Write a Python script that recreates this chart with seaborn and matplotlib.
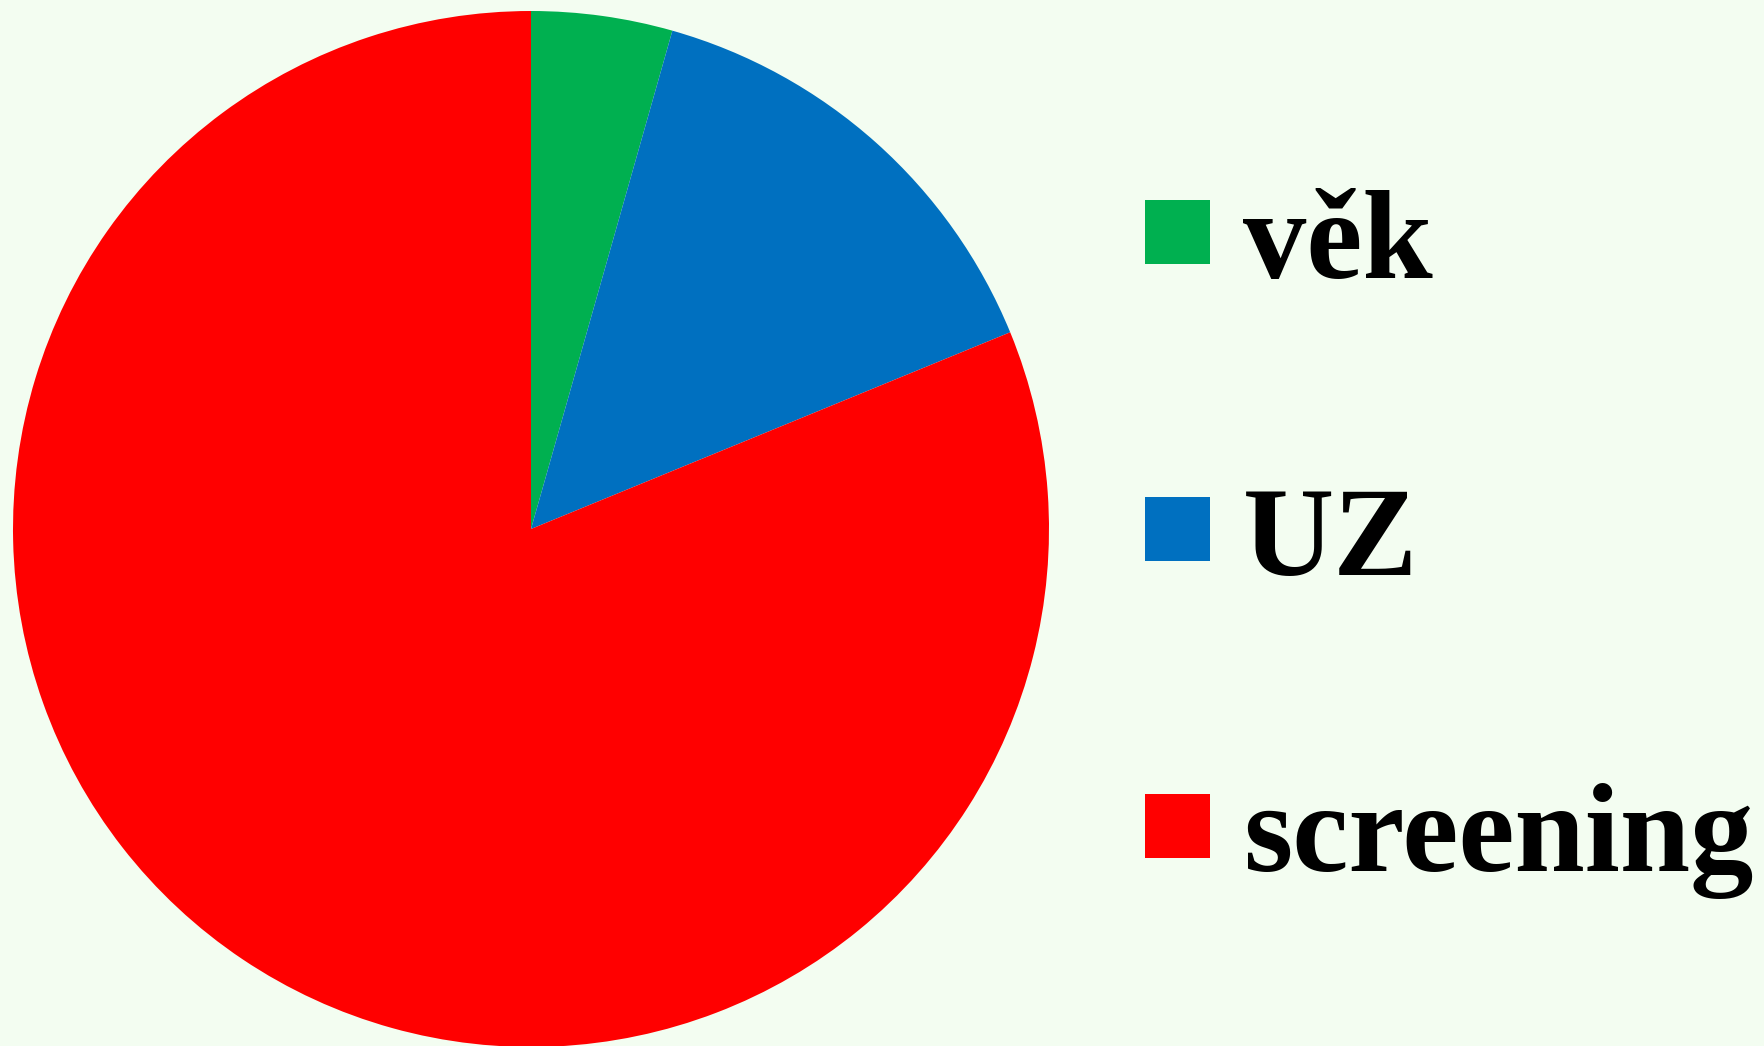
import matplotlib
matplotlib.use("Agg")
import matplotlib.pyplot as plt
import seaborn as sns
from matplotlib.patches import Rectangle

categories = ["věk", "UZ", "screening"]
values = [4.4, 14.4, 81.2]
colors = ["#00B050", "#0070C0", "#FF0000"]

sns.set_style("white")
plt.rcParams['font.family'] = ['Liberation Serif', 'DejaVu Serif']

W, H = 1764, 1046
bg = "#F3FDF1"
fig = plt.figure(figsize=(W / 100, H / 100), dpi=100, facecolor=bg)

cx, cy, r = 531, 529, 518
ax = fig.add_axes([(cx - r) / W, (H - cy - r) / H, 2 * r / W, 2 * r / H])
ax.set_facecolor(bg)
ax.pie(values, colors=colors, startangle=90, counterclock=False, radius=1,
       wedgeprops=dict(linewidth=0))
ax.set_xlim(-1, 1)
ax.set_ylim(-1, 1)
ax.set_aspect("equal")
ax.axis("off")

sq_x0, sq_x1 = 1145, 1210
sq_tops = [200, 497, 794]
sq_h = 64
baselines = [278, 575, 871]
for cat, col, top, base in zip(categories, colors, sq_tops, baselines):
    fig.patches.append(Rectangle((sq_x0 / W, (H - top - sq_h) / H), (sq_x1 - sq_x0) / W, sq_h / H,
                                 transform=fig.transFigure, facecolor=col, edgecolor="none"))
    fig.text(1243 / W, (H - base) / H, cat, fontsize=91, fontweight="bold",
             ha="left", va="baseline", color="black")

fig.savefig("out.png", dpi=100, facecolor=bg)
